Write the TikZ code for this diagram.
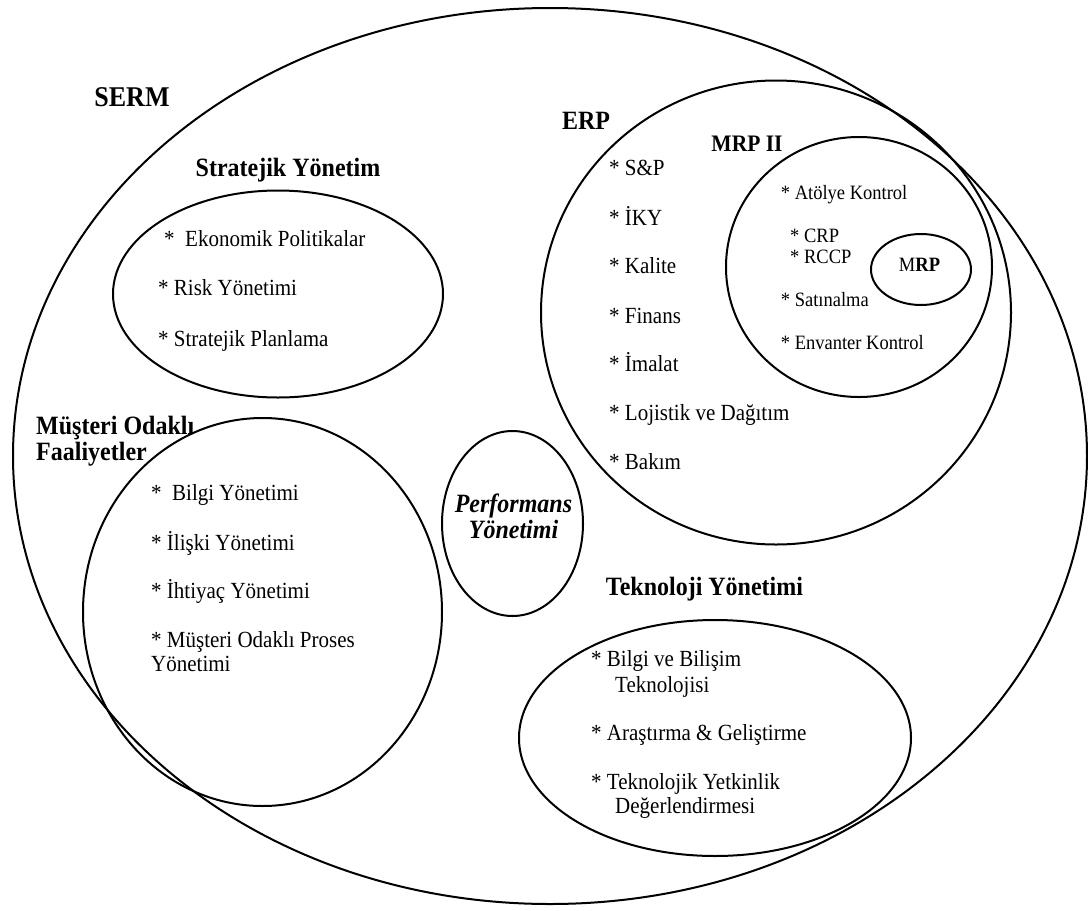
\documentclass[tikz,border=0pt]{standalone}
\usepackage{fontspec}
\usepackage{graphicx}
\setmainfont{Liberation Serif}
\usetikzlibrary{shapes.geometric}
% text is set slightly taller than wide
\newcommand{\tb}[1]{\scalebox{1}[1.1]{#1}}
\begin{document}
\begin{tikzpicture}[x=1pt,y=-1pt,
  ring/.style={draw, shape=ellipse, line width=2pt, inner sep=0pt},
  item/.style={anchor=base west, inner sep=0pt, font=\fontsize{21}{24}\selectfont},
  subitem/.style={anchor=base west, inner sep=0pt, font=\fontsize{18.5}{21}\selectfont},
  head/.style={anchor=base, inner sep=0pt, font=\fontsize{24}{28}\selectfont\bfseries},
  headleft/.style={head, anchor=base west},
]
\useasboundingbox (0,0) rectangle (1088,911);

% enclosing model and its areas
\node[ring, minimum width=1074pt, minimum height=896pt] (serm) at (550,456) {};
\node[ring, minimum width=330pt, minimum height=207pt] (strat) at (278,294) {};
\node[ring, minimum width=359pt, minimum height=388pt] (cust) at (262.5,612) {};
\node[ring, minimum width=141pt, minimum height=185pt] (perf) at (512.5,523.5) {};
\node[ring, minimum width=470pt, minimum height=464pt] (erp) at (776,312.5) {};
\node[ring, minimum width=266pt, minimum height=260pt] (mrp2) at (859,267) {};
\node[ring, minimum width=100pt, minimum height=71pt] (mrp) at (921,269.5) {};
\node[ring, minimum width=392pt, minimum height=236pt] (tech) at (715,738) {};

% titles
\node[head, font=\fontsize{26}{30}\selectfont\bfseries] (tSerm) at (132,106) {\tb{SERM}};
\node[head] (tStrat) at (288,176) {\tb{Stratejik Yönetim}};
\node[headleft] (tCust1) at (36,434) {\tb{Müşteri Odaklı}};
\node[headleft] (tCust2) at (36,460) {\tb{Faaliyetler}};
\node[head] (tErp) at (586,129.5) {\tb{ERP}};
\node[head, font=\fontsize{21.5}{25}\selectfont\bfseries] (tMrp2) at (747,151.5) {\tb{MRP II}};
\node[head, font=\fontsize{18.5}{21}\selectfont] (tMrp) at (919.5,271.5) {\tb{M\textbf{RP}}};
\node[head, font=\fontsize{24}{28}\selectfont\bfseries\itshape] (tPerf1) at (513.5,512) {\tb{Performans}};
\node[head, font=\fontsize{24}{28}\selectfont\bfseries\itshape] (tPerf2) at (513.5,538) {\tb{Yönetimi}};
\node[head] (tTech) at (704.5,595) {\tb{Teknoloji Yönetimi}};

% Stratejik Yönetim
\node[item] (s1) at (164,246) {\tb{*\ \ Ekonomik Politikalar}};
\node[item] (s2) at (158,295) {\tb{* Risk Yönetimi}};
\node[item] (s3) at (158,346) {\tb{* Stratejik Planlama}};

% Müşteri Odaklı Faaliyetler
\node[item] (c1) at (151,500.5) {\tb{*\ \ Bilgi Yönetimi}};
\node[item] (c2) at (151,550) {\tb{* İlişki Yönetimi}};
\node[item] (c3) at (151,598) {\tb{* İhtiyaç Yönetimi}};
\node[item] (c4) at (151,647) {\tb{* Müşteri Odaklı Proses}};
\node[item] (c4b) at (151,671.6) {\tb{Yönetimi}};

% ERP
\node[item] (e1) at (609,175.7) {\tb{* S\&P}};
\node[item] (e2) at (609,225) {\tb{* İKY}};
\node[item] (e3) at (609,273.7) {\tb{* Kalite}};
\node[item] (e4) at (609,323) {\tb{* Finans}};
\node[item] (e5) at (609,371.7) {\tb{* İmalat}};
\node[item] (e6) at (609,420.5) {\tb{* Lojistik ve Dağıtım}};
\node[item] (e7) at (609,469.8) {\tb{* Bakım}};

% MRP II
\node[subitem] (m1) at (780.7,199.6) {\tb{* Atölye Kontrol}};
\node[subitem] (m2) at (790,242) {\tb{* CRP}};
\node[subitem] (m3) at (790,263.4) {\tb{* RCCP}};
\node[subitem] (m4) at (780.7,306) {\tb{* Satınalma}};
\node[subitem] (m5) at (780.7,349.8) {\tb{* Envanter Kontrol}};

% Teknoloji Yönetimi
\node[item] (k1) at (591,666) {\tb{* Bilgi ve Bilişim}};
\node[item] (k1b) at (615,692) {\tb{Teknolojisi}};
\node[item] (k2) at (591,740) {\tb{* Araştırma \& Geliştirme}};
\node[item] (k3) at (591,789) {\tb{* Teknolojik Yetkinlik}};
\node[item] (k3b) at (615,813.7) {\tb{Değerlendirmesi}};
\end{tikzpicture}
\end{document}
